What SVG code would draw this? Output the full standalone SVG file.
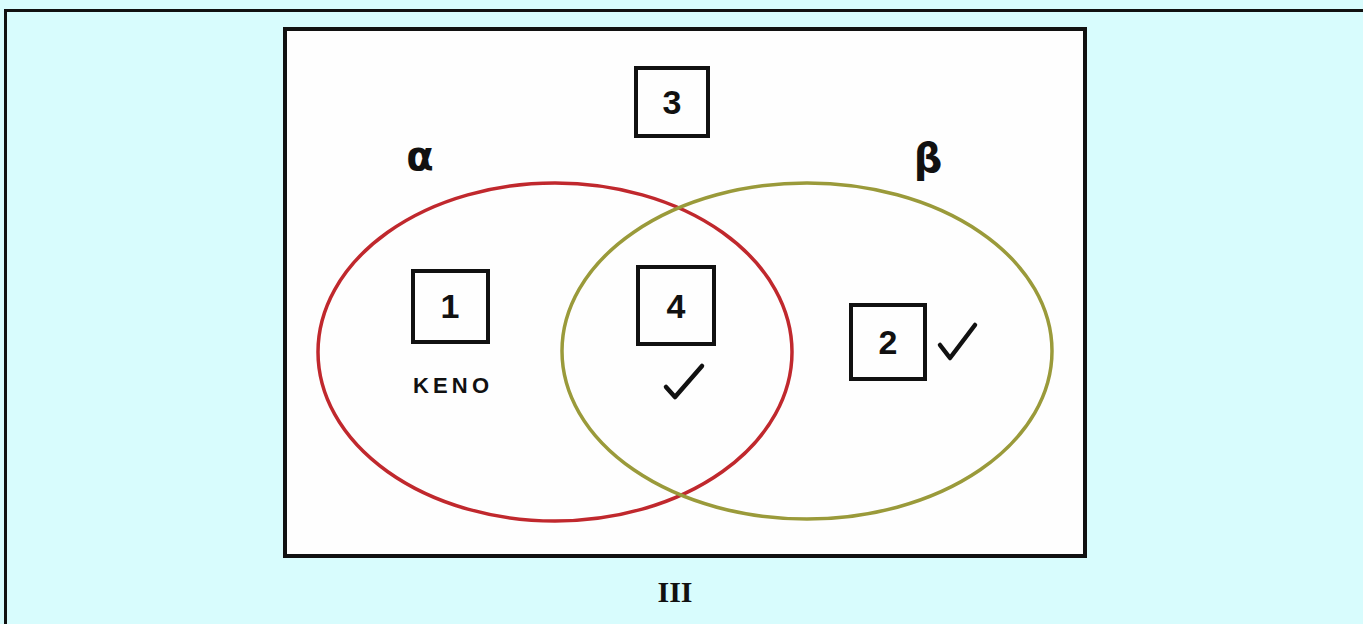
<svg xmlns="http://www.w3.org/2000/svg" width="1363" height="624" viewBox="0 0 1363 624">
<defs>
<style>
.box{fill:none;stroke:#111;stroke-width:4}
.num{font-family:"Liberation Sans",Arial,sans-serif;font-weight:bold;font-size:34px;fill:#111;text-anchor:middle}
.greek{font-family:"DejaVu Sans","Liberation Sans",sans-serif;font-weight:bold;font-size:40px;fill:#111;text-anchor:middle}
.check{fill:none;stroke:#111;stroke-width:4.5;stroke-linecap:round;stroke-linejoin:round}
</style>
</defs>
<rect x="0" y="0" width="1363" height="624" fill="#d8fcfd"/>
<path d="M5.5 630 V10.5 H1370" fill="none" stroke="#111" stroke-width="3"/>
<rect id="universe" x="285" y="29" width="800" height="527" fill="#fefefe" stroke="#111" stroke-width="4"/>
<g id="setA">
<ellipse cx="555" cy="352" rx="237" ry="169" fill="none" stroke="#c0282d" stroke-width="3.5"/>
<text class="greek" x="420" y="170">α</text>
</g>
<g id="setB">
<ellipse cx="807" cy="351" rx="245" ry="168" fill="none" stroke="#9a9a3a" stroke-width="3.5"/>
<text class="greek" x="928" y="172">β</text>
</g>
<g id="region3">
<rect class="box" x="636" y="68" width="72" height="68"/>
<text class="num" x="672" y="114">3</text>
</g>
<g id="region1">
<rect class="box" x="413" y="271" width="75" height="71"/>
<text class="num" x="450" y="318">1</text>
<text x="413" y="393" font-family="Liberation Sans,Arial,sans-serif" font-weight="bold" font-size="22" fill="#111" textLength="76" lengthAdjust="spacing">KENO</text>
</g>
<g id="region4">
<rect class="box" x="638" y="267" width="76" height="77"/>
<text class="num" x="676" y="318">4</text>
<path class="check" d="M666 387 L675 397 L702 366"/>
</g>
<g id="region2">
<rect class="box" x="851" y="305" width="74" height="74"/>
<text class="num" x="888" y="354">2</text>
<path class="check" d="M940 345 L950 358 L975 325"/>
</g>
<g id="connectors"></g>
<text x="675" y="602" font-family="Liberation Serif,Times New Roman,serif" font-weight="bold" font-size="30" fill="#111" text-anchor="middle">ΙΙΙ</text>
</svg>
